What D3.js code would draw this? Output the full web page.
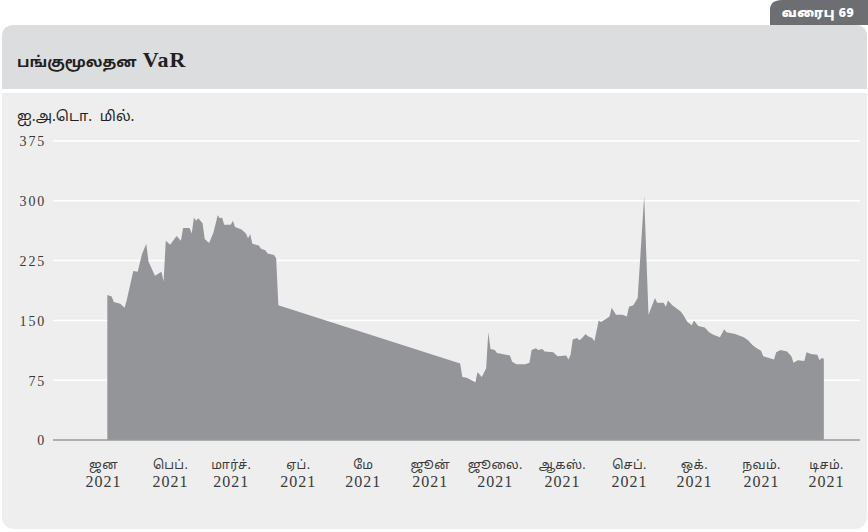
<!DOCTYPE html>
<html>
<head>
<meta charset="utf-8">
<script src="https://cdn.jsdelivr.net/npm/d3@7"></script>
<style>
  html, body { margin: 0; padding: 0; background: #ffffff; }
  svg { display: block; }
  .tamil { font-family: "Noto Sans Tamil", "Noto Serif Tamil", "Lohit Tamil", "Noto Sans", sans-serif; }
  .serif { font-family: "Liberation Serif", "DejaVu Serif", serif; }
</style>
</head>
<body>
<svg id="chart" width="868" height="532"></svg>
<script>
// ---------- data ----------
const badgeText = "வரைபு 69";
const titleTamil = "பங்குமூலதன";
const titleLatin = "VaR";
const unitLabel = "ஐ.அ.டொ.\u00a0 மில்.";
const yTicks = [0, 75, 150, 225, 300, 375];
const monthLabels = ["ஜன", "பெப்.", "மார்ச்.", "ஏப்.", "மே", "ஜூன்", "ஜூலை.", "ஆகஸ்.", "செப்.", "ஒக்.", "நவம்.", "டிசம்."];
const yearLabels = ["2021", "2021", "2021", "2021", "2021", "2021", "2021", "2021", "2021", "2021", "2021", "2021"];

const dates = [
  "2021-01-03","2021-01-05","2021-01-06","2021-01-09","2021-01-11","2021-01-12","2021-01-15","2021-01-17",
  "2021-01-19","2021-01-21","2021-01-22","2021-01-25","2021-01-28","2021-01-29","2021-01-30","2021-02-01",
  "2021-02-04","2021-02-06","2021-02-07","2021-02-10","2021-02-11","2021-02-12","2021-02-13","2021-02-14",
  "2021-02-16","2021-02-17","2021-02-19","2021-02-21","2021-02-23","2021-02-24","2021-02-25","2021-02-26",
  "2021-03-01","2021-03-02","2021-03-03","2021-03-06","2021-03-08","2021-03-09","2021-03-10","2021-03-11",
  "2021-03-14","2021-03-15","2021-03-17","2021-03-18","2021-03-21","2021-03-22","2021-03-23",
  "2021-06-15","2021-06-16","2021-06-18","2021-06-21","2021-06-22","2021-06-23","2021-06-24","2021-06-25",
  "2021-06-27","2021-06-28","2021-06-29","2021-07-01","2021-07-02","2021-07-08","2021-07-09","2021-07-11",
  "2021-07-15","2021-07-17","2021-07-18","2021-07-20","2021-07-21","2021-07-23","2021-07-24","2021-07-28",
  "2021-07-30","2021-08-03","2021-08-04","2021-08-05","2021-08-06","2021-08-08","2021-08-09","2021-08-10",
  "2021-08-12","2021-08-13","2021-08-15","2021-08-16","2021-08-18","2021-08-19","2021-08-21","2021-08-23",
  "2021-08-24","2021-08-26","2021-08-29","2021-08-31","2021-09-01","2021-09-03","2021-09-05","2021-09-08",
  "2021-09-10","2021-09-13","2021-09-14","2021-09-17","2021-09-18","2021-09-19","2021-09-21","2021-09-23",
  "2021-09-25","2021-09-26","2021-09-28","2021-09-30","2021-10-01","2021-10-03","2021-10-06","2021-10-08",
  "2021-10-10","2021-10-13","2021-10-15","2021-10-16","2021-10-20","2021-10-24","2021-10-26","2021-10-28",
  "2021-10-30","2021-11-01","2021-11-02","2021-11-07","2021-11-08","2021-11-10","2021-11-13","2021-11-15",
  "2021-11-16","2021-11-18","2021-11-21","2021-11-22","2021-11-24","2021-11-27","2021-11-28","2021-11-29",
  "2021-11-30"
];
const varValues = [
  182,180,173,171,166,176,212,211,
  233,246,224,206,211,199,250,245,
  256,250,266,266,259,279,275,278,
  272,252,247,260,282,278,279,270,
  270,275,267,264,259,253,258,246,
  244,240,238,234,232,228,169,
  96,79,78,74,72,85,82,79,
  90,135,114,113,109,106,98,95,
  95,97,113,115,113,114,111,110,
  105,106,101,107,126,128,125,127,
  133,130,128,124,150,148,151,155,
  166,157,157,155,167,169,178,306,
  157,178,172,172,167,175,169,165,
  161,157,148,144,150,143,141,135,
  132,129,139,135,133,129,125,119,
  115,112,105,101,110,113,111,105,
  97,100,99,110,108,107,100,103,
  102
];

// ---------- drawing ----------
const svg = d3.select("#chart");
const parse = d3.timeParse("%Y-%m-%d");
const data = dates.map((d, i) => ({ date: parse(d), value: varValues[i] }));

// Panel
const panelX = 2, panelY = 25, panelW = 865, panelH = 504, r = 12;
svg.append("rect").attr("x", panelX).attr("y", panelY).attr("width", panelW).attr("height", panelH)
  .attr("rx", r).attr("fill", "#eeeeee");
// Header (rounded top, square bottom)
svg.append("path")
  .attr("d", `M${panelX},89 L${panelX},${panelY + r} Q${panelX},${panelY} ${panelX + r},${panelY} L${panelX + panelW - r},${panelY} Q${panelX + panelW},${panelY} ${panelX + panelW},${panelY + r} L${panelX + panelW},89 Z`)
  .attr("fill", "#dcdddf");
svg.append("rect").attr("x", panelX).attr("y", 89).attr("width", panelW).attr("height", 4).attr("fill", "#ffffff");

// Badge
svg.append("path")
  .attr("d", "M770,25 L770,10 Q770,0 782,0 L868,0 L868,25 Z")
  .attr("fill", "#6d6e71");
svg.append("text").attr("class", "tamil")
  .attr("x", 818).attr("y", 17).attr("text-anchor", "middle")
  .attr("fill", "#ffffff").attr("font-size", 12.5).attr("font-weight", "900")
  .attr("letter-spacing", 0.6)
  .text(badgeText);

// Title
const title = svg.append("text").attr("x", 17).attr("y", 67).attr("fill", "#231f20");
title.append("tspan").attr("class", "tamil").attr("font-size", 15).attr("font-weight", "bold").text(titleTamil);
title.append("tspan").attr("class", "serif").attr("font-size", 22).attr("font-weight", "bold")
  .attr("dx", 6).attr("letter-spacing", 1).text(titleLatin);

// Unit
svg.append("text").attr("class", "tamil").attr("x", 17).attr("y", 121)
  .attr("font-size", 14.5).attr("fill", "#231f20").text(unitLabel);

// Scales
const x = d3.scaleTime().domain([new Date(2021, 0, 1), new Date(2021, 11, 1)]).range([103, 826]);
const y = d3.scaleLinear().domain([0, 375]).range([440, 141]);
const plotLeft = 53, plotRight = 860;

// Gridlines
svg.append("g").selectAll("line").data(yTicks.filter(t => t > 0)).join("line")
  .attr("x1", plotLeft).attr("x2", plotRight)
  .attr("y1", d => y(d)).attr("y2", d => y(d))
  .attr("stroke", "#ffffff").attr("stroke-width", 1.5);

// Area
const area = d3.area().x(d => x(d.date)).y0(y(0)).y1(d => y(d.value));
svg.append("path").datum(data).attr("d", area).attr("fill", "#939598");

// Zero axis line
svg.append("line").attr("x1", plotLeft).attr("x2", plotRight)
  .attr("y1", y(0)).attr("y2", y(0)).attr("stroke", "#9a9a9c").attr("stroke-width", 1.5);

// Y axis labels
const yAxis = d3.axisLeft(y).tickValues(yTicks).tickSize(0).tickPadding(0);
const yg = svg.append("g").attr("transform", "translate(46,0)").call(yAxis);
yg.select(".domain").remove();
yg.selectAll("text").attr("class", "serif").attr("font-size", 14).attr("fill", "#3a3a3a")
  .attr("letter-spacing", 1.8).attr("dy", "0.35em");

// X axis labels
const monthTicks = d3.timeMonth.range(new Date(2021, 0, 1), new Date(2021, 11, 2));
const xAxis = d3.axisBottom(x).tickValues(monthTicks).tickSize(0).tickFormat(() => "");
const xg = svg.append("g").attr("transform", `translate(0,${y(0)})`).call(xAxis);
xg.select(".domain").remove();
xg.selectAll(".tick").each(function (d, i) {
  const g = d3.select(this);
  g.select("text").remove();
  g.append("text").attr("class", "tamil").attr("y", 29).attr("text-anchor", "middle")
    .attr("font-size", 12.5).attr("letter-spacing", 0.4).attr("fill", "#3a3a3a").text(monthLabels[i]);
  g.append("text").attr("class", "serif").attr("y", 47).attr("text-anchor", "middle")
    .attr("font-size", 16).attr("letter-spacing", 1).attr("fill", "#3a3a3a").text(yearLabels[i]);
});
</script>
</body>
</html>
